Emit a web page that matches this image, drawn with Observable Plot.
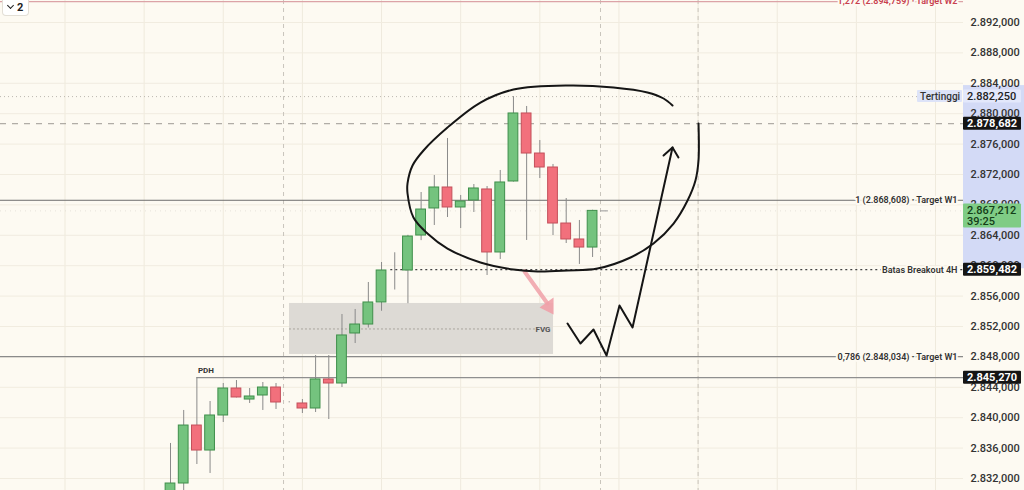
<!DOCTYPE html>
<html><head><meta charset="utf-8">
<script src="https://cdn.jsdelivr.net/npm/d3@7"></script>
<script src="https://cdn.jsdelivr.net/npm/@observablehq/plot@0.6"></script>
<style>
html,body{margin:0;padding:0;background:#fdfaf2;}
#wrap{position:relative;width:1024px;height:490px;overflow:hidden;}
#badge{position:absolute;left:2px;top:0;height:15px;padding:0 5px 0 5px;background:#fff;border:1px solid #e3dfd6;border-top:none;border-radius:0 0 4px 4px;font:700 11px Roboto, sans-serif;color:#222;display:flex;align-items:center;gap:4px;}
#badge .chev{width:4px;height:4px;border-right:1.6px solid #222;border-bottom:1.6px solid #222;transform:translateY(-2px) rotate(45deg);}
</style></head><body>
<div id="wrap"><div id="badge"><span class="chev"></span><span>2</span></div></div>
<script>
// ---- candle data (index, OHLC) ----
const candleIdx = [0,1,2,3,4,5,6,7,8,9,10,11,12,13,14,15,16,17,18,19,20,21,22,23,24,25,26,27,28,29,30,31,32];
const openP  = [2827.5,2831.34,2838.97,2835.68,2840.29,2843.84,2842.39,2842.92,2843.97,2842.0,2841.87,2841.21,2845.03,2844.5,2851.08,2852.26,2855.16,2859.5,2859.37,2863.97,2867.53,2870.29,2867.66,2868.58,2870.03,2861.74,2871.08,2880.03,2874.76,2872.92,2865.55,2863.45,2862.39];
const highP  = [2836.61,2840.95,2845.27,2842.13,2844.5,2844.89,2843.84,2844.63,2844.5,2842.1,2842.39,2848.18,2848.18,2853.58,2854.24,2857.79,2860.42,2861.7,2864.0,2869.63,2871.87,2876.74,2869.24,2870.68,2870.42,2872.53,2882.25,2880.95,2876.47,2873.32,2868.84,2865.95,2867.3];
const lowP   = [2826.0,2829.8,2833.84,2832.66,2839.37,2842.6,2841.87,2840.95,2841.08,2841.95,2840.55,2840.68,2839.76,2843.97,2849.76,2851.8,2854.0,2856.8,2855.0,2863.3,2865.29,2866.34,2864.89,2867.0,2858.71,2860.82,2871.0,2863.32,2871.47,2863.97,2862.92,2860.16,2861.08];
const closeP = [2831.34,2838.97,2835.68,2840.29,2843.84,2842.66,2842.79,2843.97,2842.0,2842.0,2841.21,2845.03,2844.5,2850.82,2852.26,2855.16,2859.37,2859.5,2863.84,2867.39,2870.29,2867.66,2868.45,2870.16,2861.74,2870.95,2880.03,2874.76,2872.92,2865.55,2863.45,2862.39,2867.212];

// ---- axis ticks / grid ----
const yTicks = [2832,2836,2840,2844,2848,2852,2856,2860,2864,2868,2872,2876,2880,2884,2888,2892];
const gridX = [-8,-2,4,10,16,22,28,34,40,46,52,58];
const sessionX = [8.57,32.6,40.0];

// ---- price levels ----
const levelLabels = ["1,272 (2.894,759) · Target W2","1 (2.868,608) · Target W1","Batas Breakout 4H","0,786 (2.848,034) · Target W1"];
const levelPrices = [2894.759,2868.608,2859.482,2848.034];
const levelColors = ["#c8404e","#333","#333","#333"];
const highestPrice = 2882.25;
const highLine = 2878.682;
const pdhPrice = 2845.27;
const pdhStart = 2;
const breakoutStart = 16.7;
const currentPrice = 2867.212;

// FVG zone
const fvgX = [9.02,29.04];
const fvgY = [2848.32,2855.03];

// axis tags
const tagPrices = [2882.25,2878.682,2867.212,2859.482,2845.27];
const tagTexts  = ["2.882,250","2.878,682","2.867,212","2.859,482","2.845,270"];
const tagKinds  = ["soft","dark","green","dark","dark"];
const countdown = "39:25";
const axisBand = [2859.6,2883.7];

// hand drawing: circle
const circleX = [40.03,40.03,39.80,39.20,38.14,36.62,34.88,32.37,30.10,27.82,26.00,23.50,21.00,19.48,18.42,17.97,17.97,18.35,19.18,21.00,23.50,26.00,30.10,33.59,36.16,37.38,38.06];
const circleY = [2878.71,2873.84,2871.21,2868.58,2865.55,2862.92,2861.08,2859.63,2859.37,2859.24,2859.50,2860.42,2862.26,2864.24,2866.34,2869.5,2870.82,2873.18,2875.16,2878.18,2881.47,2883.18,2883.71,2883.45,2882.79,2882.0,2881.08];
// zigzag arrow
const zigX = [30.10,31.08,32.07,33.06,34.04,35.03,38.06];
const zigY = [2852.39,2849.76,2851.61,2848.18,2854.76,2851.87,2875.55];
const headX = [37.38,38.06,38.51];
const headY = [2874.5,2875.55,2874.24];
// pink arrow
const pinkShaftX = [26.84,28.58];
const pinkShaftY = [2859.24,2855.03];
const pinkHeadX = [27.98,29.04,29.04];
const pinkHeadY = [2854.5,2855.82,2853.58];

const BG = "#fdfaf2";
const fmt = d3.formatLocale({decimal:",",thousands:".",grouping:[3],currency:["",""]}).format(",.3f");

const candles = candleIdx.map((i,k)=>({i,o:openP[k],h:highP[k],l:lowP[k],c:closeP[k]}));
const levels = levelPrices.map((p,k)=>({p,label:levelLabels[k],color:levelColors[k]}));
const pts = (xs,ys)=>xs.map((x,k)=>({x,y:ys[k]}));

const bodyFill = d => Math.abs(d.c-d.o)<0.2 ? "#555" : (d.c>d.o ? "#74c37e" : "#f2707c");
const bodyStroke = d => Math.abs(d.c-d.o)<0.2 ? "#555" : (d.c>d.o ? "#3f8f4b" : "#c4505b");

const plot = Plot.plot({
  width:1024, height:490,
  marginLeft:0, marginRight:61, marginTop:0, marginBottom:0,
  x:{domain:[-12.889,60.121], axis:null},
  y:{domain:[2830.42,2894.895], axis:null},
  style:{background:BG, fontFamily:"Roboto, sans-serif"},
  marks:[
    Plot.ruleX(gridX,{stroke:"#efeadd"}),
    Plot.ruleY(yTicks,{stroke:"#f1ece0"}),
    Plot.ruleX(sessionX,{stroke:"#c9c5bc", strokeDasharray:"4,4"}),
    Plot.rect([0],{x1:()=>fvgX[0], x2:()=>fvgX[1], y1:()=>fvgY[0], y2:()=>fvgY[1], fill:"#dddad5"}),
    Plot.ruleY([(fvgY[0]+fvgY[1])/2],{x1:fvgX[0], x2:27.9, stroke:"#a9a59e", strokeDasharray:"2,2"}),
    Plot.text(["FVG"],{x:fvgX[1], y:(fvgY[0]+fvgY[1])/2, dx:-3, textAnchor:"end", fontSize:8, fontWeight:700, fill:"#555"}),
    // levels
    Plot.ruleY([levelPrices[0]],{stroke:"#dca3a7", strokeWidth:1.2}),
    Plot.ruleY([highestPrice],{stroke:"#bcb8b0", strokeDasharray:"1,3"}),
    Plot.ruleY([highLine],{stroke:"#9e9a93", strokeDasharray:"6,6"}),
    Plot.ruleY([currentPrice],{stroke:"#d6d2c8", strokeDasharray:"1,4", strokeOpacity:0.6}),
    Plot.ruleY([levelPrices[1]],{stroke:"#6e6e6e"}),
    Plot.ruleY([levelPrices[2]],{x1:breakoutStart, x2:60.121, stroke:"#444", strokeWidth:1.3, strokeDasharray:"2,3"}),
    Plot.ruleY([levelPrices[3]],{stroke:"#8a8a8a", strokeWidth:1.3}),
    Plot.ruleY([pdhPrice],{x1:pdhStart, x2:60.121, stroke:"#8f8f8f", strokeWidth:1.3}),
    Plot.text(["PDH"],{x:pdhStart, y:pdhPrice, dy:-7, dx:1, textAnchor:"start", fontSize:8, fontWeight:700, fill:"#333"}),
    // candles
    Plot.ruleX(candles,{x:"i", y1:"l", y2:"h", stroke:"#8a8a8a"}),
    Plot.rect(candles,{x1:d=>d.i-0.37, x2:d=>d.i+0.37, y1:"o", y2:"c", fill:bodyFill, stroke:bodyStroke, strokeWidth:1}),
    Plot.ruleY([currentPrice],{x1:32.6, x2:33.2, stroke:"#999"}),
    // pink arrow
    Plot.line(pts(pinkShaftX,pinkShaftY),{x:"x", y:"y", stroke:"#f0a0a8", strokeWidth:4, strokeOpacity:0.85}),
    Plot.line(pts(pinkHeadX,pinkHeadY),{x:"x", y:"y", fill:"#f0a0a8", fillOpacity:0.9, stroke:"none"}),
    // hand drawings
    Plot.line(pts(circleX,circleY),{x:"x", y:"y", curve:"catmull-rom", stroke:"#151515", strokeWidth:2}),
    Plot.line(pts(zigX,zigY),{x:"x", y:"y", stroke:"#151515", strokeWidth:2, strokeLinejoin:"round"}),
    Plot.line(pts(headX,headY),{x:"x", y:"y", stroke:"#151515", strokeWidth:2, strokeLinejoin:"round"}),
    // level labels
    Plot.text(levels,{frameAnchor:"right", y:"p", text:"label", textAnchor:"end", dx:-6, fontSize:9, fontWeight:600, fill:"color", stroke:BG, strokeWidth:4, paintOrder:"stroke"}),
    // axis labels
    Plot.text(yTicks,{frameAnchor:"right", y:d=>d, text:d=>fmt(d), dx:7, textAnchor:"start", fontSize:11, fontWeight:500, fill:"#333"})
  ]
});

const wrap = document.getElementById("wrap");
wrap.insertBefore(plot, wrap.firstChild);

const ys = plot.scale("y");
const svg = d3.select(plot);
const axX = 963;
// lavender band on axis
svg.insert("rect",":first-child")
  .attr("x",axX).attr("width",61)
  .attr("y",ys.apply(axisBand[1])).attr("height",ys.apply(axisBand[0])-ys.apply(axisBand[1]))
  .attr("fill","#d3daf6");
svg.insert("rect",":first-child").attr("width",1024).attr("height",490).attr("fill",BG);

const g = svg.append("g").attr("font-family","Roboto, sans-serif").attr("text-anchor","start");
// Tertinggi tag in plot area
{
  const yy = ys.apply(highestPrice);
  g.append("rect").attr("x",917).attr("y",yy-6).attr("width",45).attr("height",12).attr("rx",1).attr("fill","#dde3f8");
  g.append("text").attr("x",920).attr("y",yy).attr("dy","0.35em").attr("text-anchor","start").attr("font-size",10).attr("font-weight",500).attr("fill","#333").text("Tertinggi");
}
tagPrices.forEach((p,k)=>{
  const yy = ys.apply(p);
  const kind = tagKinds[k];
  if (kind==="green"){
    g.append("rect").attr("x",axX).attr("y",yy-7).attr("width",58).attr("height",24).attr("rx",1).attr("fill","#7fcc85");
    g.append("text").attr("x",967).attr("y",yy).attr("dy","0.35em").attr("text-anchor","start").attr("font-size",11).attr("font-weight",500).attr("fill","#143d18").text(tagTexts[k]);
    g.append("text").attr("x",967).attr("y",yy+11).attr("dy","0.35em").attr("text-anchor","start").attr("font-size",11).attr("font-weight",500).attr("fill","#143d18").text(countdown);
  } else {
    const bg = kind==="dark" ? "#151515" : "#e3e8fb";
    const fg = kind==="dark" ? "#fff" : "#222";
    g.append("rect").attr("x",axX).attr("y",yy-6.5).attr("width",58).attr("height",13).attr("rx",1).attr("fill",bg);
    g.append("text").attr("x",967).attr("y",yy).attr("dy","0.35em").attr("text-anchor","start").attr("font-size",11).attr("font-weight",kind==="dark"?700:500).attr("fill",fg).text(tagTexts[k]);
  }
});
</script>
</body></html>
